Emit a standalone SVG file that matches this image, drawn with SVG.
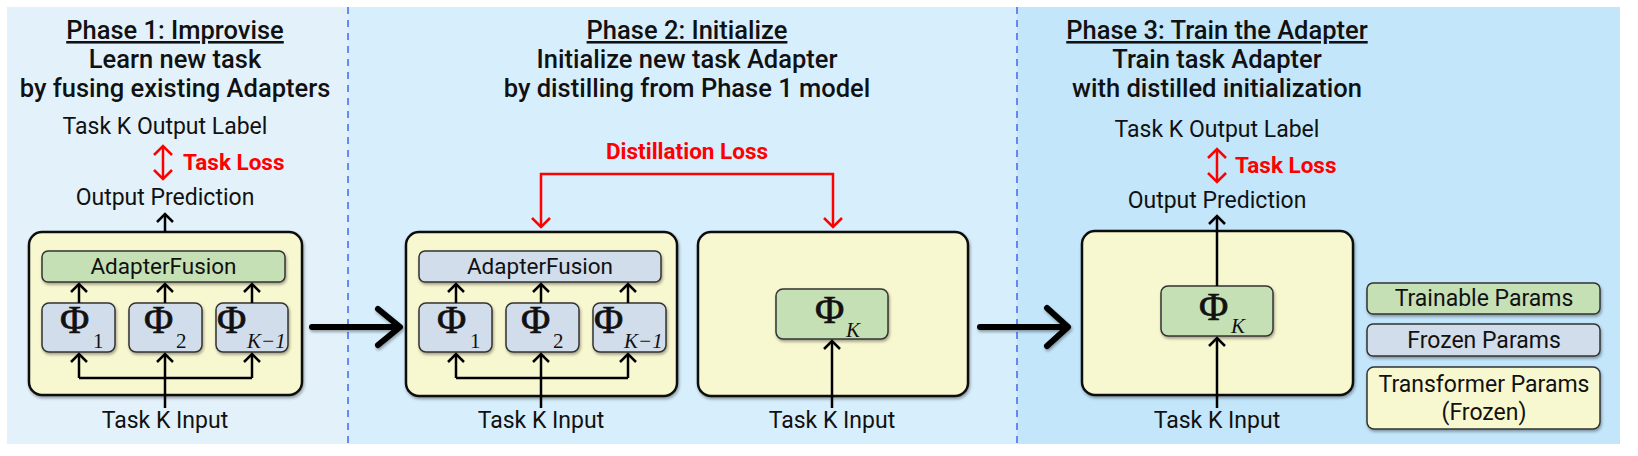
<svg xmlns="http://www.w3.org/2000/svg" width="1638" height="456" viewBox="0 0 1638 456">
<defs>
<style>
text{font-family:Roboto,"Liberation Sans",sans-serif;fill:#111}
.t{font-size:25.5px;font-weight:500;text-anchor:middle}
.u{text-decoration:underline}
.l{font-size:23px;text-anchor:middle}
.af{font-size:22.5px}
.red{font-size:22.5px;font-weight:700;fill:#f00}
.phi{font-family:"Liberation Serif","DejaVu Serif",serif;font-size:40px;stroke:#111;stroke-width:0.7}
.sub{font-family:"Liberation Serif","DejaVu Serif",serif;font-size:21px}
.it{font-style:italic}
.outer{fill:#f8f8d0;stroke:#111;stroke-width:2.5}
.gr{fill:#c6e0b5;stroke:#333;stroke-width:1.5}
.bl{fill:#d1ddea;stroke:#333;stroke-width:1.5}
.ye{fill:#f8f8d0;stroke:#333;stroke-width:1.5}
.arr{stroke:#000;stroke-width:2.5;fill:none;marker-end:url(#ah)}
.ln{stroke:#000;stroke-width:2.5;fill:none}
.rarr{stroke:#f00;stroke-width:2.5;fill:none;marker-end:url(#rh);marker-start:url(#rh)}
.big{stroke:#000;stroke-width:6;fill:none;stroke-linecap:round;stroke-linejoin:round}
.dash{stroke:#4d6ff0;stroke-width:1.6;stroke-dasharray:7 6}
</style>
<marker id="ah" viewBox="-12 -12 24 24" markerWidth="24" markerHeight="24" markerUnits="userSpaceOnUse" refX="0" refY="0" orient="auto">
<path d="M-8,-8 L0,0 L-8,8" fill="none" stroke="#000" stroke-width="2.5"/>
</marker>
<marker id="rh" viewBox="-12 -12 24 24" markerWidth="24" markerHeight="24" markerUnits="userSpaceOnUse" refX="0" refY="0" orient="auto-start-reverse">
<path d="M-9,-9 L0,0 L-9,9" fill="none" stroke="#f00" stroke-width="2.5"/>
</marker>
<filter id="sh" x="-10%" y="-10%" width="125%" height="130%">
<feDropShadow dx="1" dy="2" stdDeviation="1.5" flood-color="#000" flood-opacity="0.35"/>
</filter>
</defs>

<g id="panels">
<rect x="7" y="7" width="341" height="437" fill="#e3f1fb"/>
<rect x="348" y="7" width="669" height="437" fill="#d7eefc"/>
<rect x="1017" y="7" width="603" height="437" fill="#c3e6fb"/>
<line class="dash" x1="348" y1="7" x2="348" y2="444"/>
<line class="dash" x1="1017" y1="7" x2="1017" y2="444"/>
</g>

<g id="phase1-titles">
<text class="t u" x="175" y="39">Phase 1: Improvise</text>
<text class="t" x="175" y="68">Learn new task</text>
<text class="t" x="175" y="97">by fusing existing Adapters</text>
<text class="l" x="165" y="134">Task K Output Label</text>
<text class="red" x="183" y="170">Task Loss</text>
<text class="l" x="165" y="205">Output Prediction</text>
<text class="l" x="165" y="428">Task K Input</text>
</g>

<g id="phase1-model">
<rect class="outer" x="29" y="232" width="273" height="163" rx="13" filter="url(#sh)"/>
<g id="p1-fusion"><rect class="gr" x="42" y="251" width="243" height="31" rx="6" filter="url(#sh)"/><text class="l af" x="163.5" y="274">AdapterFusion</text></g>
<g id="p1-phi1"><rect class="bl" x="42" y="303" width="73" height="49" rx="7" filter="url(#sh)"/><text class="phi" x="60" y="333">Φ</text><text class="sub" x="93" y="348">1</text></g>
<g id="p1-phi2"><rect class="bl" x="129" y="303" width="73" height="49" rx="7" filter="url(#sh)"/><text class="phi" x="144" y="333">Φ</text><text class="sub" x="176" y="348">2</text></g>
<g id="p1-phik1"><rect class="bl" x="216" y="303" width="72" height="49" rx="7" filter="url(#sh)"/><text class="phi" x="217" y="333">Φ</text><text class="sub it" x="247" y="348">K−1</text></g>
</g>

<g id="phase2-titles">
<text class="t u" x="687" y="39">Phase 2: Initialize</text>
<text class="t" x="687" y="68">Initialize new task Adapter</text>
<text class="t" x="687" y="97">by distilling from Phase 1 model</text>
<text class="red" x="687" y="159" text-anchor="middle">Distillation Loss</text>
<text class="l" x="541" y="428">Task K Input</text>
<text class="l" x="832" y="428">Task K Input</text>
</g>

<g id="phase2-teacher">
<rect class="outer" x="406" y="232" width="271" height="164" rx="13" filter="url(#sh)"/>
<g id="p2-fusion"><rect class="bl" x="419" y="251" width="242" height="31" rx="6" filter="url(#sh)"/><text class="l af" x="540" y="274">AdapterFusion</text></g>
<g id="p2-phi1"><rect class="bl" x="419" y="303" width="73" height="49" rx="7" filter="url(#sh)"/><text class="phi" x="437" y="333">Φ</text><text class="sub" x="470" y="348">1</text></g>
<g id="p2-phi2"><rect class="bl" x="506" y="303" width="73" height="49" rx="7" filter="url(#sh)"/><text class="phi" x="521" y="333">Φ</text><text class="sub" x="553" y="348">2</text></g>
<g id="p2-phik1"><rect class="bl" x="593" y="303" width="73" height="49" rx="7" filter="url(#sh)"/><text class="phi" x="594" y="333">Φ</text><text class="sub it" x="624" y="348">K−1</text></g>
</g>

<g id="phase2-student">
<rect class="outer" x="698" y="232" width="270" height="164" rx="13" filter="url(#sh)"/>
<g id="p2-phik"><rect class="gr" x="776" y="289" width="112" height="50" rx="7" filter="url(#sh)"/><text class="phi" x="815" y="323">Φ</text><text class="sub it" x="846" y="337">K</text></g>
</g>

<g id="phase3-titles">
<text class="t u" x="1217" y="39">Phase 3: Train the Adapter</text>
<text class="t" x="1217" y="68">Train task Adapter</text>
<text class="t" x="1217" y="97">with distilled initialization</text>
<text class="l" x="1217" y="137">Task K Output Label</text>
<text class="red" x="1235" y="173">Task Loss</text>
<text class="l" x="1217" y="208">Output Prediction</text>
<text class="l" x="1217" y="428">Task K Input</text>
</g>

<g id="phase3-model">
<rect class="outer" x="1082" y="231" width="271" height="164" rx="13" filter="url(#sh)"/>
<g id="p3-phik"><rect class="gr" x="1161" y="286" width="112" height="50" rx="7" filter="url(#sh)"/><text class="phi" x="1199" y="320">Φ</text><text class="sub it" x="1231" y="333">K</text></g>
</g>

<g id="legend">
<g id="lg-train"><rect class="gr" x="1367" y="283" width="233" height="31" rx="6" filter="url(#sh)"/><text class="l" x="1484" y="306">Trainable Params</text></g>
<g id="lg-frozen"><rect class="bl" x="1367" y="324" width="233" height="32" rx="6" filter="url(#sh)"/><text class="l" x="1484" y="348">Frozen Params</text></g>
<g id="lg-transformer"><rect class="ye" x="1367" y="367" width="233" height="62" rx="7" filter="url(#sh)"/><text class="l" x="1484" y="392">Transformer Params</text><text class="l" x="1484" y="420">(Frozen)</text></g>
</g>

<g id="connectors">
<line class="rarr" x1="163" y1="146" x2="163" y2="179"/>
<line class="arr" x1="165" y1="232" x2="165" y2="214"/>
<line class="arr" x1="79" y1="303" x2="79" y2="284"/>
<line class="arr" x1="165" y1="303" x2="165" y2="284"/>
<line class="arr" x1="252" y1="303" x2="252" y2="284"/>
<path class="ln" d="M79,378 H252"/>
<line class="arr" x1="79" y1="378" x2="79" y2="354"/>
<line class="arr" x1="252" y1="378" x2="252" y2="354"/>
<line class="arr" x1="165" y1="408" x2="165" y2="354"/>
<path class="big" d="M312,327 H398 M378,309 L400,327 L378,345" filter="url(#sh)"/>
<path class="rarr" d="M541,227 V174 H833 V227"/>
<line class="arr" x1="456" y1="303" x2="456" y2="284"/>
<line class="arr" x1="541" y1="303" x2="541" y2="284"/>
<line class="arr" x1="628" y1="303" x2="628" y2="284"/>
<path class="ln" d="M456,378 H628"/>
<line class="arr" x1="456" y1="378" x2="456" y2="354"/>
<line class="arr" x1="628" y1="378" x2="628" y2="354"/>
<line class="arr" x1="541" y1="408" x2="541" y2="354"/>
<line class="arr" x1="832" y1="408" x2="832" y2="341"/>
<path class="big" d="M980,327 H1066 M1047,308 L1068,327 L1047,346" filter="url(#sh)"/>
<line class="rarr" x1="1217" y1="149" x2="1217" y2="182"/>
<line class="arr" x1="1217" y1="286" x2="1217" y2="216"/>
<line class="arr" x1="1217" y1="408" x2="1217" y2="338"/>
</g>
</svg>
